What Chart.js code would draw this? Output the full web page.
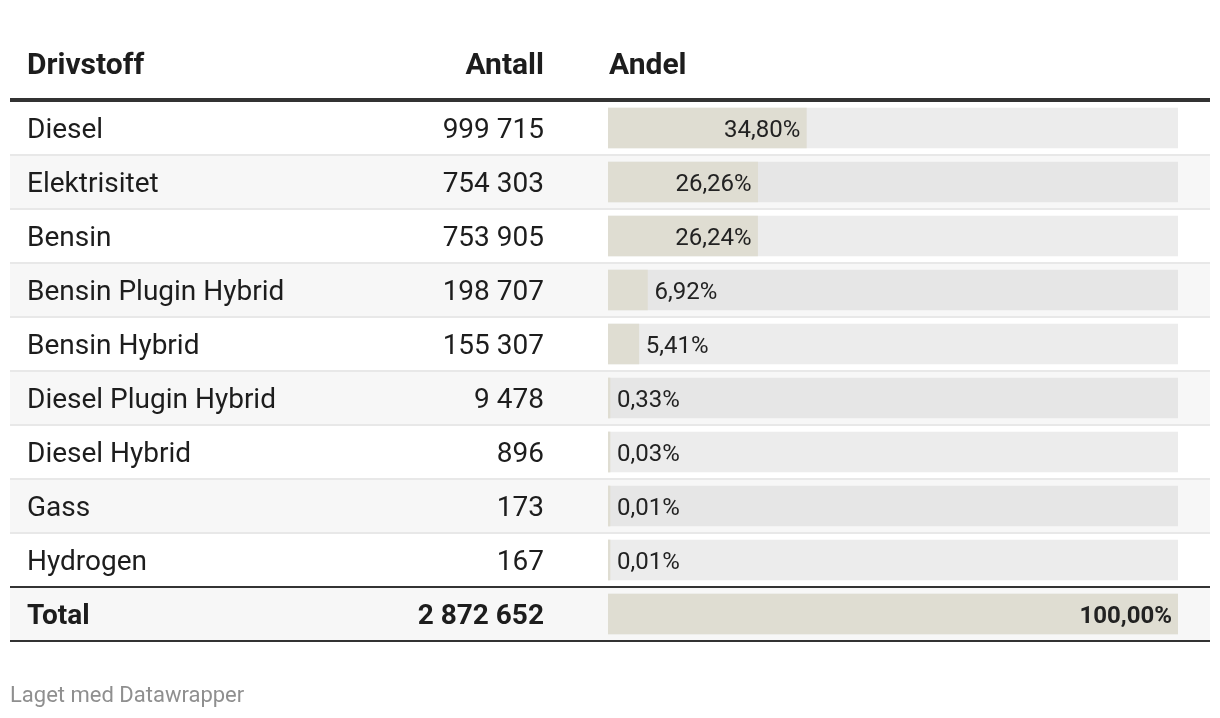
<!DOCTYPE html>
<html lang="no">
<head>
<meta charset="UTF-8">
<title>Drivstoff</title>
<script src="https://cdn.jsdelivr.net/npm/chart.js"></script>
<style>
    body {
        margin: 0;
        background: #fff;
        font-family: Roboto, "Liberation Sans", sans-serif;
        color: #1d1d1d;
    }
    #wrap {
        position: relative;
        width: 1220px;
        height: 718px;
    }
    #tableChart {
        position: absolute;
        left: 0;
        top: 0;
    }
    .cell {
        position: absolute;
        white-space: nowrap;
        line-height: 1;
        transform: translateY(calc(-50% + 1px));
    }
    .head { font-weight: 700; font-size: 30px; }
    .txt { font-size: 28px; }
    .pct { font-size: 24px; color: #222; }
    .bold { font-weight: 700; }
    #credit {
        position: absolute;
        left: 10px;
        top: 682px;
        font-size: 22px;
        color: #8f8f8f;
    }
</style>
</head>
<body>
<div id="wrap">
    <canvas id="tableChart" width="1220" height="718"></canvas>
    <div id="cells"></div>
    <div id="credit">Laget med Datawrapper</div>
</div>
<script>
    // data
    const fuelTypes = ['Diesel', 'Elektrisitet', 'Bensin', 'Bensin Plugin Hybrid', 'Bensin Hybrid',
        'Diesel Plugin Hybrid', 'Diesel Hybrid', 'Gass', 'Hydrogen'];
    const counts = [999715, 754303, 753905, 198707, 155307, 9478, 896, 173, 167];
    const shares = [34.80, 26.26, 26.24, 6.92, 5.41, 0.33, 0.03, 0.01, 0.01];
    const totalLabel = 'Total';
    const totalCount = 2872652;
    const totalShare = 100;
    const headers = ['Drivstoff', 'Antall', 'Andel'];

    const rowLabels = [...fuelTypes, totalLabel];
    const rowShares = [...shares, totalShare];
    const rowCounts = [...counts, totalCount];
    const lastRow = rowLabels.length - 1;

    const fmtCount = n => String(n).replace(/\B(?=(\d{3})+(?!\d))/g, ' ');
    const fmtShare = v => v.toFixed(2).replace('.', ',') + '%';

    const EDGE_L = 10, EDGE_R = 1210;

    const rowPlugin = {
        id: 'rows',
        beforeDatasetsDraw(chart) {
            const { ctx, scales: { y } } = chart;
            const band = y.getPixelForValue(1) - y.getPixelForValue(0);
            ctx.save();
            rowLabels.forEach((l, i) => {
                const top = y.getPixelForValue(i) - band / 2;
                ctx.fillStyle = (i % 2 === 1 || i === lastRow) ? '#f7f7f7' : '#ffffff';
                ctx.fillRect(EDGE_L, top, EDGE_R - EDGE_L, band);
                if (i > 0 && i < lastRow) {
                    ctx.fillStyle = '#e8e8e8';
                    ctx.fillRect(EDGE_L, top - 1, EDGE_R - EDGE_L, 2);
                }
            });
            const top0 = y.getPixelForValue(0) - band / 2;
            const topT = y.getPixelForValue(lastRow) - band / 2;
            const botT = y.getPixelForValue(lastRow) + band / 2;
            ctx.fillStyle = '#333333';
            ctx.fillRect(EDGE_L, top0 - 3, EDGE_R - EDGE_L, 4);
            ctx.fillRect(EDGE_L, topT - 1, EDGE_R - EDGE_L, 2);
            ctx.fillRect(EDGE_L, botT - 1, EDGE_R - EDGE_L, 2);
            ctx.restore();
        }
    };

    const chart = new Chart(document.getElementById('tableChart'), {
        type: 'bar',
        data: {
            labels: rowLabels,
            datasets: [
                {
                    label: 'Andel',
                    data: rowShares,
                    backgroundColor: '#dfddd2',
                    barThickness: 40,
                    minBarLength: 2,
                    grouped: false,
                    order: 1
                },
                {
                    label: 'track',
                    data: rowLabels.map(() => 100),
                    backgroundColor: rowLabels.map((l, i) => i % 2 === 1 ? '#e6e6e6' : '#ececec'),
                    barThickness: 40,
                    grouped: false,
                    order: 2
                }
            ]
        },
        options: {
            indexAxis: 'y',
            responsive: false,
            animation: false,
            layout: { padding: { left: 608, right: 42, top: 101, bottom: 77 } },
            scales: {
                x: { display: false, min: 0, max: 100 },
                y: { display: false }
            },
            plugins: {
                legend: { display: false },
                tooltip: { enabled: false }
            }
        },
        plugins: [rowPlugin]
    });

    // table text placed from the chart scales
    const cells = document.getElementById('cells');
    const xs = chart.scales.x, ys = chart.scales.y;
    const x0 = xs.getPixelForValue(0);
    const numRight = 544;

    function addCell(text, cls, y, left, right) {
        const el = document.createElement('div');
        el.className = 'cell ' + cls;
        el.textContent = text;
        el.style.top = y + 'px';
        if (left != null) el.style.left = left + 'px';
        if (right != null) el.style.right = (1220 - right) + 'px';
        cells.appendChild(el);
        return el;
    }

    const headY = 63;
    addCell(headers[0], 'head', headY, 27);
    addCell(headers[1], 'head', headY, null, numRight);
    addCell(headers[2], 'head', headY, x0 + 1);

    rowLabels.forEach((label, i) => {
        const cy = ys.getPixelForValue(i);
        const bold = i === lastRow ? ' bold' : '';
        addCell(label, 'txt' + bold, cy, 27);
        addCell(fmtCount(rowCounts[i]), 'txt' + bold, cy, null, numRight);

        const barEnd = Math.max(xs.getPixelForValue(rowShares[i]), x0 + 2);
        const lab = addCell(fmtShare(rowShares[i]), 'pct' + bold, cy, barEnd + 7);
        const w = lab.offsetWidth;
        if (barEnd - x0 > w + 12) {
            lab.style.left = '';
            lab.style.right = (1220 - (barEnd - 6)) + 'px';
        }
    });
</script>
</body>
</html>
